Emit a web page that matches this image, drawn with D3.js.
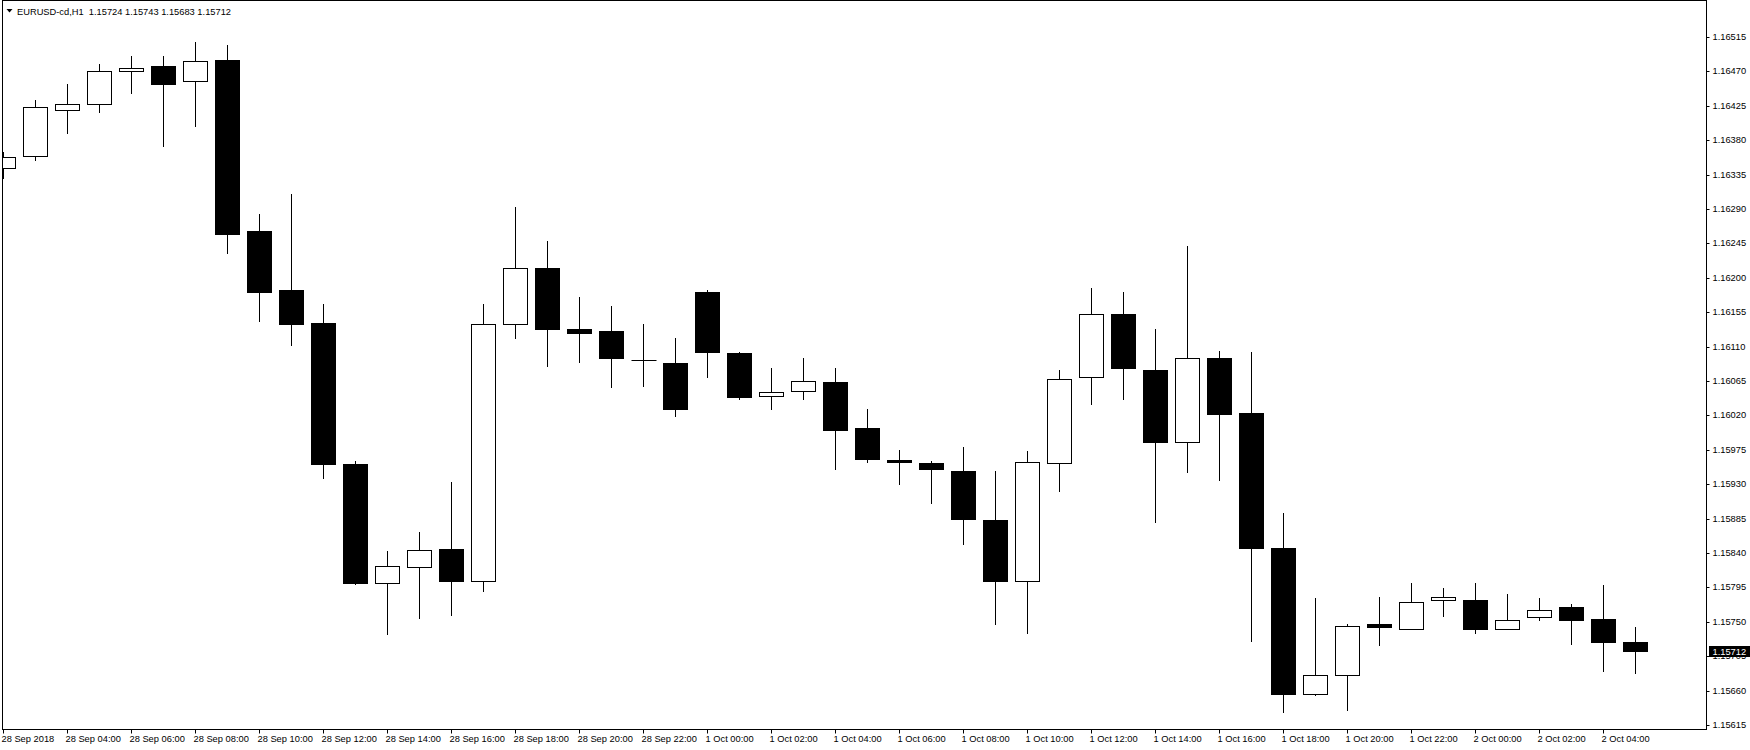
<!DOCTYPE html>
<html>
<head>
<meta charset="utf-8">
<script src="https://cdn.jsdelivr.net/npm/d3@7"></script>
<style>
  html, body { margin: 0; padding: 0; background: #fff; }
  svg { display: block; }
  text { font-family: "Liberation Sans", Arial, sans-serif; }
</style>
</head>
<body>
<script>
// ---------- DATA ----------
const symbolTitle = "EURUSD-cd,H1";

const categories = [
  "28 Sep 02:00","28 Sep 03:00","28 Sep 04:00","28 Sep 05:00","28 Sep 06:00","28 Sep 07:00",
  "28 Sep 08:00","28 Sep 09:00","28 Sep 10:00","28 Sep 11:00","28 Sep 12:00","28 Sep 13:00",
  "28 Sep 14:00","28 Sep 15:00","28 Sep 16:00","28 Sep 17:00","28 Sep 18:00","28 Sep 19:00",
  "28 Sep 20:00","28 Sep 21:00","28 Sep 22:00","28 Sep 23:00",
  "1 Oct 00:00","1 Oct 01:00","1 Oct 02:00","1 Oct 03:00","1 Oct 04:00","1 Oct 05:00",
  "1 Oct 06:00","1 Oct 07:00","1 Oct 08:00","1 Oct 09:00","1 Oct 10:00","1 Oct 11:00",
  "1 Oct 12:00","1 Oct 13:00","1 Oct 14:00","1 Oct 15:00","1 Oct 16:00","1 Oct 17:00",
  "1 Oct 18:00","1 Oct 19:00","1 Oct 20:00","1 Oct 21:00","1 Oct 22:00","1 Oct 23:00",
  "2 Oct 00:00","2 Oct 01:00","2 Oct 02:00","2 Oct 03:00","2 Oct 04:00","2 Oct 05:00"
];

const openVals = [
  1.16343,1.16359,1.16420,1.16428,1.16471,1.16477,
  1.16457,1.16485,1.16261,1.16184,1.16141,1.15956,
  1.15801,1.15822,1.15845,1.15804,1.16140,1.16213,
  1.16133,1.16131,1.16093,1.16089,
  1.16182,1.16102,1.16045,1.16052,1.16064,1.16003,
  1.15962,1.15958,1.15947,1.15883,1.15804,1.15958,
  1.16070,1.16153,1.16079,1.15985,1.16095,1.16023,
  1.15846,1.15655,1.15681,1.15747,1.15741,1.15779,
  1.15779,1.15740,1.15756,1.15769,1.15754,1.15724
];
const highVals = [
  1.16365,1.16433,1.16454,1.16480,1.16490,1.16490,
  1.16508,1.16505,1.16284,1.16309,1.16166,1.15960,
  1.15842,1.15867,1.15933,1.16166,1.16292,1.16248,
  1.16175,1.16163,1.16140,1.16121,
  1.16184,1.16103,1.16082,1.16095,1.16082,1.16028,
  1.15975,1.15960,1.15979,1.15947,1.15974,1.16079,
  1.16187,1.16182,1.16133,1.16242,1.16104,1.16103,
  1.15892,1.15781,1.15747,1.15782,1.15801,1.15794,
  1.15801,1.15787,1.15781,1.15773,1.15798,1.15743
];
const lowVals = [
  1.16331,1.16354,1.16390,1.16417,1.16442,1.16373,
  1.16399,1.16233,1.16144,1.16112,1.15938,1.15800,
  1.15734,1.15755,1.15759,1.15790,1.16121,1.16085,
  1.16090,1.16057,1.16058,1.16019,
  1.16070,1.16042,1.16029,1.16041,1.15950,1.15959,
  1.15930,1.15906,1.15852,1.15747,1.15736,1.15921,
  1.16035,1.16042,1.15880,1.15946,1.15935,1.15725,
  1.15632,1.15654,1.15635,1.15720,1.15740,1.15757,
  1.15735,1.15740,1.15753,1.15721,1.15685,1.15683
];
const closeVals = [
  1.16358,1.16423,1.16428,1.16470,1.16474,1.16454,
  1.16483,1.16257,1.16182,1.16140,1.15956,1.15801,
  1.15823,1.15844,1.15804,1.16140,1.16213,1.16133,
  1.16128,1.16095,1.16092,1.16029,
  1.16103,1.16044,1.16051,1.16065,1.16001,1.15963,
  1.15959,1.15950,1.15884,1.15803,1.15959,1.16068,
  1.16152,1.16082,1.15985,1.16095,1.16022,1.15846,
  1.15656,1.15681,1.15745,1.15743,1.15776,1.15782,
  1.15741,1.15753,1.15766,1.15752,1.15723,1.15712
];

const yTickValues = [
  1.16515,1.16470,1.16425,1.16380,1.16335,1.16290,1.16245,1.16200,1.16155,1.16110,
  1.16065,1.16020,1.15975,1.15930,1.15885,1.15840,1.15795,1.15750,1.15705,1.15660,1.15615
];

const xTickCats = [
  "28 Sep 02:00","28 Sep 04:00","28 Sep 06:00","28 Sep 08:00","28 Sep 10:00","28 Sep 12:00",
  "28 Sep 14:00","28 Sep 16:00","28 Sep 18:00","28 Sep 20:00","28 Sep 22:00",
  "1 Oct 00:00","1 Oct 02:00","1 Oct 04:00","1 Oct 06:00","1 Oct 08:00","1 Oct 10:00",
  "1 Oct 12:00","1 Oct 14:00","1 Oct 16:00","1 Oct 18:00","1 Oct 20:00","1 Oct 22:00",
  "2 Oct 00:00","2 Oct 02:00","2 Oct 04:00"
];
const xTickLabels = [
  "28 Sep 2018","28 Sep 04:00","28 Sep 06:00","28 Sep 08:00","28 Sep 10:00","28 Sep 12:00",
  "28 Sep 14:00","28 Sep 16:00","28 Sep 18:00","28 Sep 20:00","28 Sep 22:00",
  "1 Oct 00:00","1 Oct 02:00","1 Oct 04:00","1 Oct 06:00","1 Oct 08:00","1 Oct 10:00",
  "1 Oct 12:00","1 Oct 14:00","1 Oct 16:00","1 Oct 18:00","1 Oct 20:00","1 Oct 22:00",
  "2 Oct 00:00","2 Oct 02:00","2 Oct 04:00"
];

// ---------- LAYOUT ----------
const W = 1750, H = 750;
const frame = { left: 2, top: 0, right: 1706, bottom: 729 };
const FONT = "9.3px";

const svg = d3.select("body").append("svg").attr("width", W).attr("height", H);
svg.append("rect").attr("width", W).attr("height", H).attr("fill", "#fff");

const x = d3.scalePoint()
  .domain(categories)
  .range([3.5, 3.5 + 32 * (categories.length - 1)]);

const y = d3.scaleLinear()
  .domain([1.15615, 1.16515])
  .rangeRound([725, 37]);

const bars = categories.map((c, i) => ({
  c, o: openVals[i], h: highVals[i], l: lowVals[i], cl: closeVals[i]
}));

// clip
svg.append("defs").append("clipPath").attr("id", "plotclip")
  .append("rect")
  .attr("x", frame.left).attr("y", frame.top)
  .attr("width", frame.right - frame.left).attr("height", frame.bottom - frame.top);

const plot = svg.append("g").attr("clip-path", "url(#plotclip)");

const halfBody = 12;

const candle = plot.selectAll("g.candle").data(bars).join("g").attr("class", "candle");

// wicks
candle.append("line")
  .attr("x1", d => x(d.c)).attr("x2", d => x(d.c))
  .attr("y1", d => y(d.h)).attr("y2", d => y(d.l) + 1)
  .attr("stroke", "#000").attr("stroke-width", 1)
  .attr("shape-rendering", "crispEdges");

// bodies
candle.each(function(d) {
  const g = d3.select(this);
  const top = y(Math.max(d.o, d.cl));
  const bot = y(Math.min(d.o, d.cl));
  const bull = d.cl > d.o;
  if (bot - top < 1) {
    g.append("line")
      .attr("x1", x(d.c) - halfBody).attr("x2", x(d.c) + halfBody + 1)
      .attr("y1", top + 0.5).attr("y2", top + 0.5)
      .attr("stroke", "#000").attr("stroke-width", 1);
  } else {
    g.append("rect")
      .attr("x", x(d.c) - halfBody)
      .attr("y", top + 0.5)
      .attr("width", halfBody * 2)
      .attr("height", bot - top)
      .attr("fill", bull ? "#fff" : "#000")
      .attr("stroke", "#000").attr("stroke-width", 1);
  }
});

// frame
svg.append("rect")
  .attr("x", frame.left + 0.5).attr("y", frame.top + 0.5)
  .attr("width", frame.right - frame.left).attr("height", frame.bottom - frame.top)
  .attr("fill", "none").attr("stroke", "#000").attr("stroke-width", 1);

// right price axis
const yAxis = d3.axisRight(y)
  .tickValues(yTickValues)
  .tickSize(3)
  .tickPadding(3)
  .tickFormat(d3.format(".5f"));
const yg = svg.append("g")
  .attr("transform", `translate(${frame.right + 0.5},0)`)
  .call(yAxis);
yg.select(".domain").remove();
yg.selectAll("text").attr("font-size", FONT).attr("font-family", "Liberation Sans, Arial, sans-serif").attr("fill", "#000");
yg.selectAll("line").attr("stroke", "#000");

// bottom time axis
const xAxis = d3.axisBottom(x)
  .tickValues(xTickCats)
  .tickSize(4)
  .offset(0)
  .tickFormat((d, i) => xTickLabels[i]);
const xg = svg.append("g")
  .attr("transform", `translate(0,${frame.bottom + 0.5})`)
  .call(xAxis);
xg.select(".domain").remove();
xg.selectAll("line").attr("stroke", "#000");
xg.selectAll("text")
  .attr("text-anchor", "start")
  .attr("x", -2)
  .attr("y", 12.5)
  .attr("dy", 0)
  .attr("font-size", FONT)
  .attr("font-family", "Liberation Sans, Arial, sans-serif")
  .attr("fill", "#000");

// current price box
const last = bars[bars.length - 1];
const yc = y(last.cl);
svg.append("rect")
  .attr("x", 1709).attr("y", yc - 5)
  .attr("width", 41).attr("height", 11)
  .attr("fill", "#000");
svg.append("text")
  .attr("x", 1712.5).attr("y", yc + 0.5)
  .attr("dy", "0.35em")
  .attr("font-size", FONT)
  .attr("fill", "#fff")
  .text(d3.format(".5f")(last.cl));

// title
svg.append("path")
  .attr("d", "M6.5,9 L12.5,9 L9.5,12.5 Z")
  .attr("fill", "#000");
const fmt = d3.format(".5f");
svg.append("text")
  .attr("x", 17).attr("y", 15)
  .attr("font-size", FONT)
  .attr("fill", "#000")
  .style("white-space", "pre")
  .text(`${symbolTitle}  ${fmt(last.o)} ${fmt(last.h)} ${fmt(last.l)} ${fmt(last.cl)}`);
</script>
</body>
</html>
